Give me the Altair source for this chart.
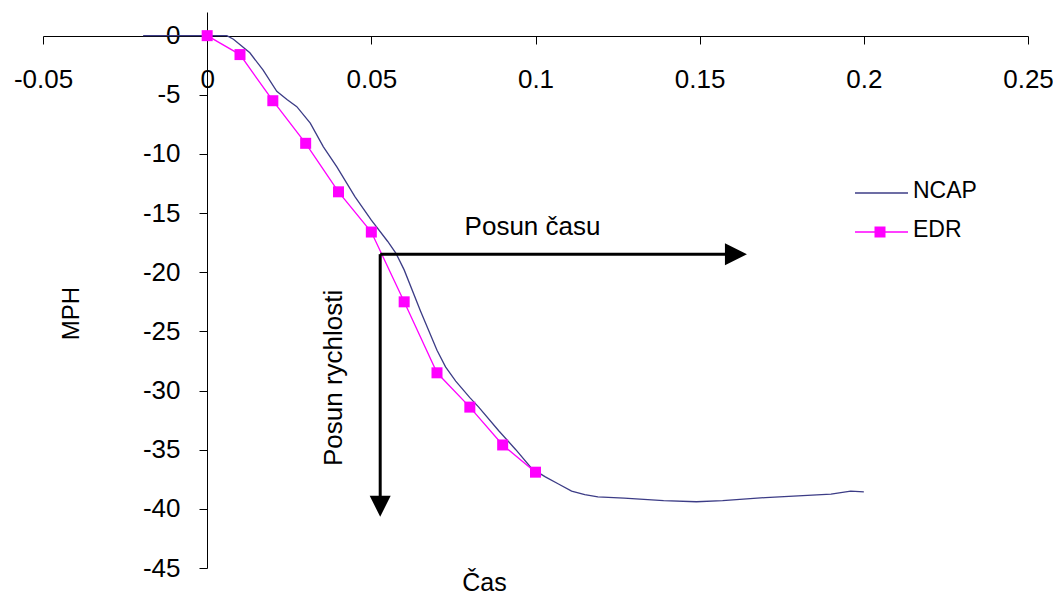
import altair as alt
import pandas as pd

FONT = "Liberation Sans"

# ---- data ----
ncap_time = [-0.0195, 0.0, 0.006, 0.008, 0.013, 0.017, 0.0212, 0.0243, 0.0273, 0.0314,
             0.0354, 0.0395, 0.045, 0.05, 0.055, 0.0575, 0.06, 0.065, 0.07, 0.0726,
             0.0757, 0.08, 0.0827, 0.0888, 0.094, 0.0989, 0.103, 0.107, 0.111, 0.115,
             0.119, 0.127, 0.133, 0.139, 0.149, 0.157, 0.17, 0.18, 0.19, 0.196, 0.2]
ncap_mph = [0.0, 0.0, 0.0, -0.3, -1.45, -2.9, -4.7, -5.4, -6.0, -7.4,
            -9.4, -11.1, -13.6, -15.6, -17.4, -18.4, -19.8, -23.3, -26.6, -28.0,
            -29.2, -30.6, -31.4, -33.4, -35.0, -36.6, -37.3, -37.9, -38.5, -38.8,
            -38.98, -39.1, -39.2, -39.3, -39.4, -39.3, -39.05, -38.9, -38.75, -38.5, -38.56]

edr_time = [0.0, 0.01, 0.02, 0.03, 0.04, 0.05, 0.06, 0.07, 0.08, 0.09, 0.1]
edr_mph = [0.0, -1.6, -5.5, -9.1, -13.2, -16.6, -22.5, -28.5, -31.4, -34.6, -36.9]

series_names = ["NCAP", "EDR"]
series_colors = ["#3c3c86", "#ff00ff"]

x_ticks = [-0.05, 0, 0.05, 0.1, 0.15, 0.2, 0.25]
y_ticks = [0, -5, -10, -15, -20, -25, -30, -35, -40, -45]

# arrows: origin, shaft ends, tips
arrow_origin_time = [0.0527]
arrow_origin_mph = [-18.47]
time_shift_end = [0.161]
time_shift_tip = [0.1644]
speed_shift_end = [-39.8]
speed_shift_tip = [-40.67]

label_time_shift = ["Posun času"]
label_time_pos = [0.0991]
label_time_mph = [-16.84]
label_speed_shift = ["Posun rychlosti"]
label_speed_time = [0.0411]
label_speed_mph = [-28.93]

# ---- layout ----
W, H = 985, 556

xscale = alt.Scale(domain=[-0.05, 0.25], nice=False, zero=False)
yscale = alt.Scale(domain=[-45, 2], nice=False, zero=False)

xaxis = alt.Axis(values=x_ticks, labelExpr="'' + datum.value", orient="bottom",
                 offset=-532, grid=False, tickSize=8, labelPadding=22,
                 labelFontSize=26, labelFont=FONT, labelColor="black",
                 domainColor="black", tickColor="black", labelFlush=False,
                 title="Čas", titleFont=FONT, titleFontSize=25, titleFontWeight="normal",
                 titleX=441, titleY=554, titleBaseline="alphabetic", titleAlign="center",
                 titleColor="black")
yaxis = alt.Axis(values=y_ticks, labelExpr="'' + datum.value", orient="left",
                 offset=-164, grid=False, tickSize=8, labelPadding=19,
                 labelFontSize=26, labelFont=FONT, labelColor="black",
                 domainColor="black", tickColor="black", labelFlush=False,
                 title="MPH", titleFont=FONT, titleFontSize=24, titleFontWeight="normal",
                 titleX=-136, titleY=301, titleBaseline="middle", titleAlign="center",
                 titleAngle=270, titleColor="black")

X = lambda f="t": alt.X(f"{f}:Q", scale=xscale, axis=xaxis)
Y = lambda f="v": alt.Y(f"{f}:Q", scale=yscale, axis=yaxis)

ncap_df = pd.DataFrame({"t": ncap_time, "v": ncap_mph, "s": series_names[0]})
edr_df = pd.DataFrame({"t": edr_time, "v": edr_mph, "s": series_names[1]})

ncap_line = alt.Chart(ncap_df).mark_line(color=series_colors[0], strokeWidth=1.3).encode(
    x=X(), y=Y(), order="t:Q")
edr_line = alt.Chart(edr_df).mark_line(color=series_colors[1], strokeWidth=1.3).encode(
    x=X(), y=Y(), order="t:Q")
edr_pts = alt.Chart(edr_df).mark_point(shape="square", filled=True, size=121,
                                       color=series_colors[1], opacity=1).encode(x=X(), y=Y())

arr_h_df = pd.DataFrame({"t": arrow_origin_time, "t2": time_shift_end, "v": arrow_origin_mph})
arr_v_df = pd.DataFrame({"t": arrow_origin_time, "v": arrow_origin_mph, "v2": speed_shift_end})
arr_h = alt.Chart(arr_h_df).mark_rule(color="black", strokeWidth=3).encode(
    x=X(), x2="t2:Q", y=Y())
arr_v = alt.Chart(arr_v_df).mark_rule(color="black", strokeWidth=3).encode(
    x=X(), y=Y(), y2="v2:Q")
head_h_df = pd.DataFrame({"t": time_shift_tip, "v": arrow_origin_mph})
head_v_df = pd.DataFrame({"t": arrow_origin_time, "v": speed_shift_tip})
head_h = alt.Chart(head_h_df).mark_point(shape="M0,0L-1,-0.5L-1,0.5Z", filled=True,
                                         size=1936, color="black", opacity=1,
                                         strokeWidth=0).encode(x=X(), y=Y())
head_v = alt.Chart(head_v_df).mark_point(shape="M0,0L-0.5,-1L0.5,-1Z", filled=True,
                                         size=1764, color="black", opacity=1,
                                         strokeWidth=0).encode(x=X(), y=Y())

txt_h_df = pd.DataFrame({"t": label_time_pos, "v": label_time_mph, "label": label_time_shift})
txt_v_df = pd.DataFrame({"t": label_speed_time, "v": label_speed_mph, "label": label_speed_shift})
txt_h = alt.Chart(txt_h_df).mark_text(font=FONT, fontSize=26, align="center",
                                      baseline="alphabetic", color="black").encode(
    x=X(), y=Y(), text="label:N")
txt_v = alt.Chart(txt_v_df).mark_text(font=FONT, fontSize=26, align="center",
                                      baseline="alphabetic", angle=270, color="black").encode(
    x=X(), y=Y(), text="label:N")

# ---- legend (drawn beside the plot, right side) ----
leg_ncap = pd.DataFrame({"label": [series_names[0]]})
leg_edr = pd.DataFrame({"label": [series_names[1]]})
leg_line1 = alt.Chart(leg_ncap).mark_rule(color=series_colors[0], strokeWidth=1.3).encode(
    x=alt.value(812), x2=alt.value(865), y=alt.value(181))
leg_line2 = alt.Chart(leg_edr).mark_rule(color=series_colors[1], strokeWidth=1.3).encode(
    x=alt.value(812), x2=alt.value(865), y=alt.value(220))
leg_sq = alt.Chart(leg_edr).mark_point(shape="square", filled=True, size=121,
                                       color=series_colors[1], opacity=1).encode(
    x=alt.value(837), y=alt.value(220))
leg_t1 = alt.Chart(leg_ncap).mark_text(font=FONT, fontSize=23, align="left",
                                       baseline="middle", color="black").encode(
    x=alt.value(870), y=alt.value(179), text="label:N")
leg_t2 = alt.Chart(leg_edr).mark_text(font=FONT, fontSize=23, align="left",
                                      baseline="middle", color="black").encode(
    x=alt.value(870), y=alt.value(218), text="label:N")

chart = alt.layer(
    ncap_line, edr_line, edr_pts, arr_h, arr_v, head_h, head_v, txt_h, txt_v,
    leg_line1, leg_line2, leg_sq, leg_t1, leg_t2
).properties(
    width=W, height=H,
    autosize=alt.AutoSizeParams(type="none"),
    padding={"left": 35, "top": 4, "right": 25, "bottom": 29},
    background="white",
).configure_view(stroke=None)

chart.save("out.html", embed_options={"renderer": "svg", "actions": False})
